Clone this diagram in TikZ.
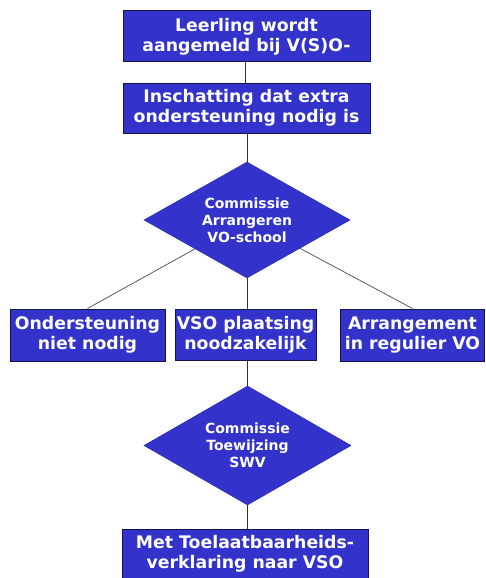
\documentclass[tikz,border=0pt]{standalone}
\usepackage{fontspec}
\setmainfont{DejaVu Sans}
\usetikzlibrary{shapes.geometric}
\definecolor{boxblue}{RGB}{51,51,204}
\definecolor{boxedge}{RGB}{20,20,70}
\definecolor{diaedge}{RGB}{45,45,185}
\definecolor{conn}{RGB}{50,50,50}
\tikzset{
  stepbox/.style={rectangle, fill=boxblue, draw=boxedge, line width=1pt,
    text=white, align=center, inner sep=0pt,
    font=\fontsize{17.3}{20}\selectfont\bfseries},
  decide/.style={diamond, aspect=1.78, fill=boxblue, draw=diaedge, line width=0.6pt,
    text=white, align=center, inner sep=0pt,
    font=\fontsize{14}{17}\selectfont\bfseries},
  link/.style={draw=conn, line width=0.9pt},
  diag/.style={draw=conn!80, line width=0.8pt}
}
\begin{document}
\begin{tikzpicture}[x=1pt,y=-1pt]
\useasboundingbox (0,0) rectangle (485,578);
\fill[white] (0,0) rectangle (485,578);

\node[stepbox, minimum width=247pt, minimum height=51pt] (b1) at (246.5,36.5)
  {Leerling wordt\\aangemeld bij V(S)O-};
\node[stepbox, minimum width=247pt, minimum height=50pt] (b2) at (246.5,108)
  {Inschatting dat extra\\ondersteuning nodig is};
\node[decide, minimum width=206pt, minimum height=116pt] (d1) at (247,220)
  {Commissie\\Arrangeren\\VO-school};
\node[stepbox, minimum width=155pt, minimum height=52pt] (b3) at (87.5,335)
  {Ondersteuning\\niet nodig};
\node[stepbox, minimum width=141pt, minimum height=51pt] (b4) at (245.5,335)
  {VSO plaatsing\\noodzakelijk};
\node[stepbox, minimum width=144pt, minimum height=52pt] (b5) at (412.5,335)
  {Arrangement\\in regulier VO};
\node[decide, minimum width=207pt, minimum height=119pt] (d2) at (247.5,445.5)
  {Commissie\\Toewijzing\\SWV};
\node[stepbox, minimum width=246pt, minimum height=49pt] (b6) at (245,553.5)
  {Met Toelaatbaarheids-\\verklaring naar VSO};

\draw[link] (b1.south -| 245,0) -- (b2.north -| 245,0);
\draw[link] (b2.south -| d1.north) -- (d1.north);
\draw[diag] (d1) -- (b3.north);
\draw[diag] (d1) -- (b5.north);
\draw[link] (d1.south) -- (b4.north -| d1.south);
\draw[link] (b4.south -| d2.north) -- (d2.north);
\draw[link] (d2.south) -- (b6.north -| d2.south);
\end{tikzpicture}
\end{document}
